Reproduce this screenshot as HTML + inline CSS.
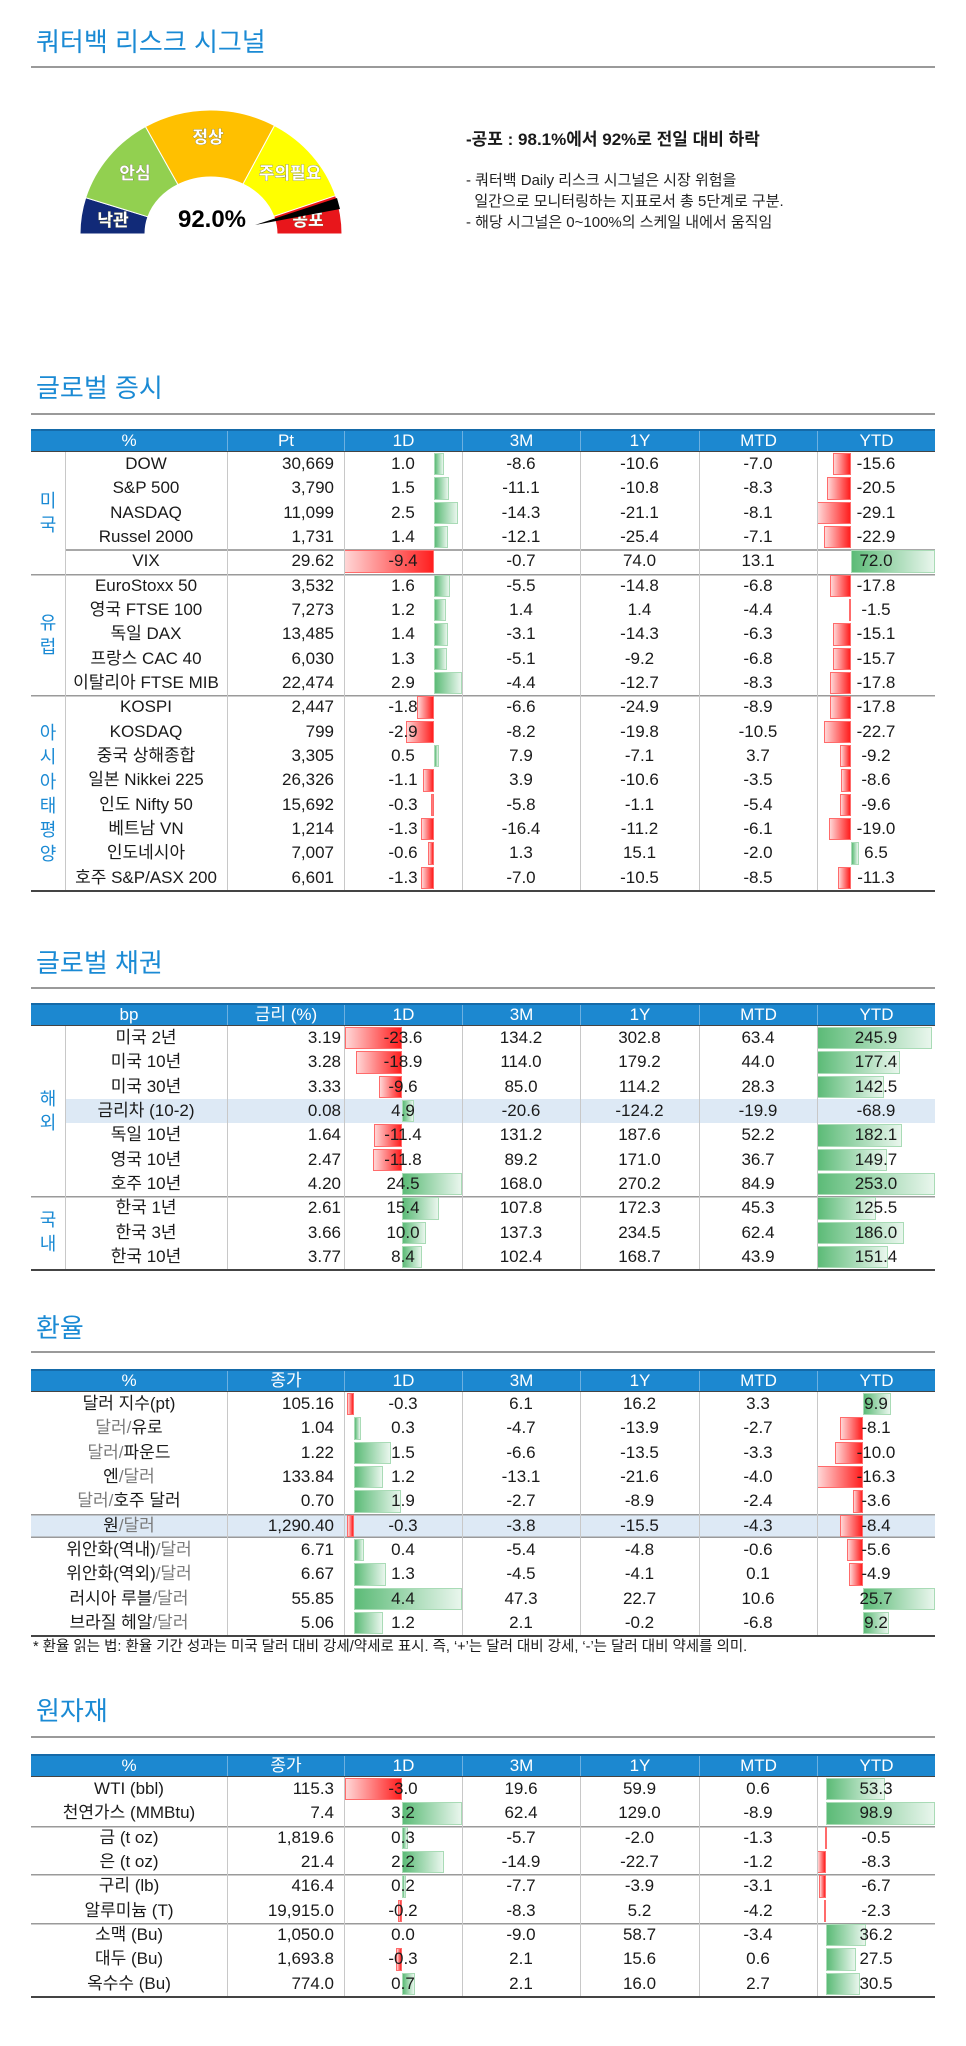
<!DOCTYPE html>
<html><head><meta charset="utf-8"><style>
*{margin:0;padding:0;box-sizing:border-box}
body{width:966px;height:2046px;background:#fff;position:relative;font-family:"Liberation Sans","Noto Sans CJK KR",sans-serif;color:#1a1a1a;overflow:hidden}
.t{position:absolute;left:36px;font-size:26px;color:#1a8ad4;line-height:30px;font-family:"Liberation Sans","Noto Sans CJK KR",sans-serif}
.u{position:absolute;left:31px;width:904px;height:2px;background:#9a9a9a}
.tb{position:absolute;left:31px;width:904px;border-bottom:2px solid #444}
.h{height:23px;background:#1c88d0;border-top:2px solid #156aa8;border-bottom:1px solid #444;display:grid;color:#fff;font-size:17px;line-height:20px}
.h span{text-align:center;border-left:1px solid #6db0e0}
.h span:first-child{border-left:none}
.r{height:24.33px;display:grid;font-size:17px;line-height:24px;position:relative}
.r span{text-align:center;position:relative;white-space:nowrap}
.s .h,.s .r{grid-template-columns:34px 162px 117px 118px 118px 119px 118px 118px}
.s .h{grid-template-columns:196px 117px 118px 118px 119px 118px 118px}
.f .h,.f .r{grid-template-columns:196px 117px 118px 118px 119px 118px 118px}
.r span.v{text-align:right;padding-right:10px}
.b .r span.v{padding-right:3px}
.r span b{font-weight:normal;position:relative;z-index:2}
i{position:absolute;top:1px;bottom:1px;z-index:1}
i.n{background:linear-gradient(to right,#ffd6d6,#ff1e1e);border:1px solid #ff6b6b}
i.p{background:linear-gradient(to right,#5cbb77,#e9f6ed);border:1px solid #a9dbb6}
.vl{position:absolute;width:1px;background:#c8c8c8;z-index:3}
.hl{box-shadow:inset 0 1.5px 0 #9a9a9a}
.hi{background:#dde9f5}
.g{position:absolute;left:0;width:34px;text-align:center;color:#1a8ad4;font-size:18px;line-height:24.3px}
.gy{color:#7a7a7a}
</style></head><body>

<div class="t" style="top:27px">쿼터백 리스크 시그널</div>
<div class="u" style="top:66px"></div>

<svg style="position:absolute;left:0;top:0" width="420" height="260" viewBox="0 0 420 260">
<path d="M80,234 A131,124 0 0 1 85.7,197.7 L147.9,216.8 A66,57 0 0 0 145,234 Z" fill="#112a78" stroke="#fff" stroke-width="1"/>
<path d="M85.7,197.7 A131,124 0 0 1 145.5,126.6 L178,184.6 A66,57 0 0 0 147.9,216.8 Z" fill="#92d050" stroke="#fff" stroke-width="1"/>
<path d="M145.5,126.6 A131,124 0 0 1 274.5,125.6 L243,184.1 A66,57 0 0 0 178,184.6 Z" fill="#ffc000" stroke="#fff" stroke-width="1"/>
<path d="M274.5,125.6 A131,124 0 0 1 335.6,195.7 L273.8,216.4 A66,57 0 0 0 243,184.1 Z" fill="#ffff00" stroke="#fff" stroke-width="1"/>
<path d="M335.6,195.7 A131,124 0 0 1 342,234 L277,234 A66,57 0 0 0 273.8,216.4 Z" fill="#e8161b" stroke="#fff" stroke-width="1"/>
<g font-family="Liberation Sans, Noto Sans CJK KR, sans-serif" font-weight="bold" font-size="17" fill="#fff" text-anchor="middle" stroke="#6b6b3a" stroke-width="0.6" paint-order="stroke">
<text x="208" y="143">정상</text><text x="135" y="179">안심</text><text x="290" y="179">주의필요</text><text x="113" y="226">낙관</text><text x="308" y="226">공포</text></g>
<polygon points="255,225 337,198 340,209" fill="#000"/>
<text x="212" y="227" font-family="Liberation Sans, sans-serif" font-weight="bold" font-size="24" text-anchor="middle" fill="#000">92.0%</text>
</svg>

<div style="position:absolute;left:466px;top:128px;font-size:17px;font-weight:bold;line-height:24px">-공포 : 98.1%에서 92%로 전일 대비 하락</div>
<div style="position:absolute;left:466px;top:170px;font-size:15px;line-height:21px;color:#222">- 쿼터백 Daily 리스크 시그널은 시장 위험을<br>&nbsp; 일간으로 모니터링하는 지표로서 총 5단계로 구분.<br>- 해당 시그널은 0~100%의 스케일 내에서 움직임</div>

<!-- 글로벌 증시 -->
<div class="t" style="top:373px">글로벌 증시</div>
<div class="u" style="top:413px"></div>
<div class="tb s" style="top:429px">
<div class="h"><span>%</span><span>Pt</span><span>1D</span><span>3M</span><span>1Y</span><span>MTD</span><span>YTD</span></div>
<div class="r"><span></span><span>DOW</span><span class="v">30,669</span><span><i class="p" style="left:90px;width:10px"></i><b>1.0</b></span><span>-8.6</span><span>-10.6</span><span>-7.0</span><span><i class="n" style="left:15.7px;width:18.3px"></i><b>-15.6</b></span></div>
<div class="r"><span></span><span>S&amp;P 500</span><span class="v">3,790</span><span><i class="p" style="left:90px;width:14.6px"></i><b>1.5</b></span><span>-11.1</span><span>-10.8</span><span>-8.3</span><span><i class="n" style="left:10px;width:24px"></i><b>-20.5</b></span></div>
<div class="r"><span></span><span>NASDAQ</span><span class="v">11,099</span><span><i class="p" style="left:90px;width:24.3px"></i><b>2.5</b></span><span>-14.3</span><span>-21.1</span><span>-8.1</span><span><i class="n" style="left:0;width:34px"></i><b>-29.1</b></span></div>
<div class="r"><span></span><span>Russel 2000</span><span class="v">1,731</span><span><i class="p" style="left:90px;width:13.6px"></i><b>1.4</b></span><span>-12.1</span><span>-25.4</span><span>-7.1</span><span><i class="n" style="left:7.2px;width:26.8px"></i><b>-22.9</b></span></div>
<div class="r" style="box-shadow:inset 0 2px 0 #a8a8a8"><span style="background:#fff"></span><span>VIX</span><span class="v">29.62</span><span><i class="n" style="left:0;width:90px"></i><b>-9.4</b></span><span>-0.7</span><span>74.0</span><span>13.1</span><span><i class="p" style="left:34px;width:84px"></i><b>72.0</b></span></div>
<div class="r hl"><span></span><span>EuroStoxx 50</span><span class="v">3,532</span><span><i class="p" style="left:90px;width:15.5px"></i><b>1.6</b></span><span>-5.5</span><span>-14.8</span><span>-6.8</span><span><i class="n" style="left:13.2px;width:20.8px"></i><b>-17.8</b></span></div>
<div class="r"><span></span><span>영국 FTSE 100</span><span class="v">7,273</span><span><i class="p" style="left:90px;width:11.6px"></i><b>1.2</b></span><span>1.4</span><span>1.4</span><span>-4.4</span><span><i class="n" style="left:32.2px;width:1.8px"></i><b>-1.5</b></span></div>
<div class="r"><span></span><span>독일 DAX</span><span class="v">13,485</span><span><i class="p" style="left:90px;width:13.6px"></i><b>1.4</b></span><span>-3.1</span><span>-14.3</span><span>-6.3</span><span><i class="n" style="left:16.3px;width:17.7px"></i><b>-15.1</b></span></div>
<div class="r"><span></span><span>프랑스 CAC 40</span><span class="v">6,030</span><span><i class="p" style="left:90px;width:12.6px"></i><b>1.3</b></span><span>-5.1</span><span>-9.2</span><span>-6.8</span><span><i class="n" style="left:15.6px;width:18.4px"></i><b>-15.7</b></span></div>
<div class="r"><span></span><span>이탈리아 FTSE MIB</span><span class="v">22,474</span><span><i class="p" style="left:90px;width:28px"></i><b>2.9</b></span><span>-4.4</span><span>-12.7</span><span>-8.3</span><span><i class="n" style="left:13.2px;width:20.8px"></i><b>-17.8</b></span></div>
<div class="r hl"><span></span><span>KOSPI</span><span class="v">2,447</span><span><i class="n" style="left:72.5px;width:17.5px"></i><b>-1.8</b></span><span>-6.6</span><span>-24.9</span><span>-8.9</span><span><i class="n" style="left:13.2px;width:20.8px"></i><b>-17.8</b></span></div>
<div class="r"><span></span><span>KOSDAQ</span><span class="v">799</span><span><i class="n" style="left:62px;width:28px"></i><b>-2.9</b></span><span>-8.2</span><span>-19.8</span><span>-10.5</span><span><i class="n" style="left:7.4px;width:26.6px"></i><b>-22.7</b></span></div>
<div class="r"><span></span><span>중국 상해종합</span><span class="v">3,305</span><span><i class="p" style="left:90px;width:4.9px"></i><b>0.5</b></span><span>7.9</span><span>-7.1</span><span>3.7</span><span><i class="n" style="left:23.2px;width:10.8px"></i><b>-9.2</b></span></div>
<div class="r"><span></span><span>일본 Nikkei 225</span><span class="v">26,326</span><span><i class="n" style="left:79.3px;width:10.7px"></i><b>-1.1</b></span><span>3.9</span><span>-10.6</span><span>-3.5</span><span><i class="n" style="left:24px;width:10px"></i><b>-8.6</b></span></div>
<div class="r"><span></span><span>인도 Nifty 50</span><span class="v">15,692</span><span><i class="n" style="left:87.1px;width:2.9px"></i><b>-0.3</b></span><span>-5.8</span><span>-1.1</span><span>-5.4</span><span><i class="n" style="left:22.8px;width:11.2px"></i><b>-9.6</b></span></div>
<div class="r"><span></span><span>베트남 VN</span><span class="v">1,214</span><span><i class="n" style="left:77.4px;width:12.6px"></i><b>-1.3</b></span><span>-16.4</span><span>-11.2</span><span>-6.1</span><span><i class="n" style="left:11.8px;width:22.2px"></i><b>-19.0</b></span></div>
<div class="r"><span></span><span>인도네시아</span><span class="v">7,007</span><span><i class="n" style="left:84.2px;width:5.8px"></i><b>-0.6</b></span><span>1.3</span><span>15.1</span><span>-2.0</span><span><i class="p" style="left:34px;width:7.6px"></i><b>6.5</b></span></div>
<div class="r"><span></span><span>호주 S&amp;P/ASX 200</span><span class="v">6,601</span><span><i class="n" style="left:77.4px;width:12.6px"></i><b>-1.3</b></span><span>-7.0</span><span>-10.5</span><span>-8.5</span><span><i class="n" style="left:20.8px;width:13.2px"></i><b>-11.3</b></span></div>
<div class="vl" style="left:34px;top:23px;height:438px"></div>
<div class="vl" style="left:196px;top:23px;height:438px"></div>
<div class="vl" style="left:313px;top:23px;height:438px"></div>
<div class="vl" style="left:431px;top:23px;height:438px"></div>
<div class="vl" style="left:549px;top:23px;height:438px"></div>
<div class="vl" style="left:668px;top:23px;height:438px"></div>
<div class="vl" style="left:786px;top:23px;height:438px"></div>
<div class="g" style="top:60px">미<br>국</div>
<div class="g" style="top:182px">유<br>럽</div>
<div class="g" style="top:292px">아<br>시<br>아<br>태<br>평<br>양</div>
</div>

<!-- 글로벌 채권 -->
<div class="t" style="top:948px">글로벌 채권</div>
<div class="u" style="top:987px"></div>
<div class="tb s b" style="top:1003px">
<div class="h"><span>bp</span><span>금리 (%)</span><span>1D</span><span>3M</span><span>1Y</span><span>MTD</span><span>YTD</span></div>
<div class="r"><span></span><span>미국 2년</span><span class="v">3.19</span><span><i class="n" style="left:0.7px;width:57.3px"></i><b>-23.6</b></span><span>134.2</span><span>302.8</span><span>63.4</span><span><i class="p" style="left:0;width:114.8px"></i><b>245.9</b></span></div>
<div class="r"><span></span><span>미국 10년</span><span class="v">3.28</span><span><i class="n" style="left:12.1px;width:45.9px"></i><b>-18.9</b></span><span>114.0</span><span>179.2</span><span>44.0</span><span><i class="p" style="left:0;width:82.8px"></i><b>177.4</b></span></div>
<div class="r"><span></span><span>미국 30년</span><span class="v">3.33</span><span><i class="n" style="left:34.7px;width:23.3px"></i><b>-9.6</b></span><span>85.0</span><span>114.2</span><span>28.3</span><span><i class="p" style="left:0;width:66.5px"></i><b>142.5</b></span></div>
<div class="r" style="box-shadow:inset 0 2px 0 #a8a8a8,inset 0 -1px 0 #9a9a9a"><span style="background:#fff"></span><span class="hi">금리차 (10-2)</span><span class="v hi">0.08</span><span class="hi"><i class="p" style="left:58px;width:11.9px"></i><b>4.9</b></span><span class="hi">-20.6</span><span class="hi">-124.2</span><span class="hi">-19.9</span><span class="hi">-68.9</span></div>
<div class="r"><span></span><span>독일 10년</span><span class="v">1.64</span><span><i class="n" style="left:30.3px;width:27.7px"></i><b>-11.4</b></span><span>131.2</span><span>187.6</span><span>52.2</span><span><i class="p" style="left:0;width:85px"></i><b>182.1</b></span></div>
<div class="r"><span></span><span>영국 10년</span><span class="v">2.47</span><span><i class="n" style="left:29.3px;width:28.7px"></i><b>-11.8</b></span><span>89.2</span><span>171.0</span><span>36.7</span><span><i class="p" style="left:0;width:69.9px"></i><b>149.7</b></span></div>
<div class="r"><span></span><span>호주 10년</span><span class="v">4.20</span><span><i class="p" style="left:58px;width:60px"></i><b>24.5</b></span><span>168.0</span><span>270.2</span><span>84.9</span><span><i class="p" style="left:0;width:118px"></i><b>253.0</b></span></div>
<div class="r hl"><span></span><span>한국 1년</span><span class="v">2.61</span><span><i class="p" style="left:58px;width:37.4px"></i><b>15.4</b></span><span>107.8</span><span>172.3</span><span>45.3</span><span><i class="p" style="left:0;width:58.6px"></i><b>125.5</b></span></div>
<div class="r"><span></span><span>한국 3년</span><span class="v">3.66</span><span><i class="p" style="left:58px;width:24.3px"></i><b>10.0</b></span><span>137.3</span><span>234.5</span><span>62.4</span><span><i class="p" style="left:0;width:86.9px"></i><b>186.0</b></span></div>
<div class="r"><span></span><span>한국 10년</span><span class="v">3.77</span><span><i class="p" style="left:58px;width:20.4px"></i><b>8.4</b></span><span>102.4</span><span>168.7</span><span>43.9</span><span><i class="p" style="left:0;width:70.7px"></i><b>151.4</b></span></div>
<div class="vl" style="left:34px;top:23px;height:243px"></div>
<div class="vl" style="left:196px;top:23px;height:243px"></div>
<div class="vl" style="left:313px;top:23px;height:243px"></div>
<div class="vl" style="left:431px;top:23px;height:243px"></div>
<div class="vl" style="left:549px;top:23px;height:243px"></div>
<div class="vl" style="left:668px;top:23px;height:243px"></div>
<div class="vl" style="left:786px;top:23px;height:243px"></div>
<div class="g" style="top:84px">해<br>외</div>
<div class="g" style="top:205px">국<br>내</div>
</div>

<!-- 환율 -->
<div class="t" style="top:1313px">환율</div>
<div class="u" style="top:1351px"></div>
<div class="tb f" style="top:1369px">
<div class="h"><span>%</span><span>종가</span><span>1D</span><span>3M</span><span>1Y</span><span>MTD</span><span>YTD</span></div>
<div class="r"><span>달러 지수(pt)</span><span class="v">105.16</span><span><i class="n" style="left:2.6px;width:7.4px"></i><b>-0.3</b></span><span>6.1</span><span>16.2</span><span>3.3</span><span><i class="p" style="left:46px;width:27.7px"></i><b>9.9</b></span></div>
<div class="r"><span><span class="gy">달러/</span>유로</span><span class="v">1.04</span><span><i class="p" style="left:10px;width:7.4px"></i><b>0.3</b></span><span>-4.7</span><span>-13.9</span><span>-2.7</span><span><i class="n" style="left:23.3px;width:22.7px"></i><b>-8.1</b></span></div>
<div class="r"><span><span class="gy">달러/</span>파운드</span><span class="v">1.22</span><span><i class="p" style="left:10px;width:36.8px"></i><b>1.5</b></span><span>-6.6</span><span>-13.5</span><span>-3.3</span><span><i class="n" style="left:18px;width:28px"></i><b>-10.0</b></span></div>
<div class="r"><span>엔<span class="gy">/달러</span></span><span class="v">133.84</span><span><i class="p" style="left:10px;width:29.4px"></i><b>1.2</b></span><span>-13.1</span><span>-21.6</span><span>-4.0</span><span><i class="n" style="left:0.4px;width:45.6px"></i><b>-16.3</b></span></div>
<div class="r"><span><span class="gy">달러/</span>호주 달러</span><span class="v">0.70</span><span><i class="p" style="left:10px;width:46.6px"></i><b>1.9</b></span><span>-2.7</span><span>-8.9</span><span>-2.4</span><span><i class="n" style="left:35.9px;width:10.1px"></i><b>-3.6</b></span></div>
<div class="r hi" style="box-shadow:inset 0 1.5px 0 #9a9a9a,inset 0 -1.5px 0 #9a9a9a"><span>원<span class="gy">/달러</span></span><span class="v">1,290.40</span><span><i class="n" style="left:2.6px;width:7.4px"></i><b>-0.3</b></span><span>-3.8</span><span>-15.5</span><span>-4.3</span><span><i class="n" style="left:22.5px;width:23.5px"></i><b>-8.4</b></span></div>
<div class="r"><span>위안화(역내)<span class="gy">/달러</span></span><span class="v">6.71</span><span><i class="p" style="left:10px;width:9.8px"></i><b>0.4</b></span><span>-5.4</span><span>-4.8</span><span>-0.6</span><span><i class="n" style="left:30.3px;width:15.7px"></i><b>-5.6</b></span></div>
<div class="r"><span>위안화(역외)<span class="gy">/달러</span></span><span class="v">6.67</span><span><i class="p" style="left:10px;width:31.9px"></i><b>1.3</b></span><span>-4.5</span><span>-4.1</span><span>0.1</span><span><i class="n" style="left:32.3px;width:13.7px"></i><b>-4.9</b></span></div>
<div class="r"><span>러시아 루블<span class="gy">/달러</span></span><span class="v">55.85</span><span><i class="p" style="left:10px;width:108px"></i><b>4.4</b></span><span>47.3</span><span>22.7</span><span>10.6</span><span><i class="p" style="left:46px;width:72px"></i><b>25.7</b></span></div>
<div class="r"><span>브라질 헤알<span class="gy">/달러</span></span><span class="v">5.06</span><span><i class="p" style="left:10px;width:29.4px"></i><b>1.2</b></span><span>2.1</span><span>-0.2</span><span>-6.8</span><span><i class="p" style="left:46px;width:25.8px"></i><b>9.2</b></span></div>
<div class="vl" style="left:196px;top:23px;height:243px"></div>
<div class="vl" style="left:313px;top:23px;height:243px"></div>
<div class="vl" style="left:431px;top:23px;height:243px"></div>
<div class="vl" style="left:549px;top:23px;height:243px"></div>
<div class="vl" style="left:668px;top:23px;height:243px"></div>
<div class="vl" style="left:786px;top:23px;height:243px"></div>
</div>
<div style="position:absolute;left:33px;top:1637px;font-size:14.5px;line-height:20px;white-space:nowrap">* 환율 읽는 법: 환율 기간 성과는 미국 달러 대비 강세/약세로 표시. 즉, ‘+’는 달러 대비 강세, ‘-’는 달러 대비 약세를 의미.</div>

<!-- 원자재 -->
<div class="t" style="top:1696px">원자재</div>
<div class="u" style="top:1736px"></div>
<div class="tb f" style="top:1754px">
<div class="h"><span>%</span><span>종가</span><span>1D</span><span>3M</span><span>1Y</span><span>MTD</span><span>YTD</span></div>
<div class="r"><span>WTI (bbl)</span><span class="v">115.3</span><span><i class="n" style="left:1px;width:57px"></i><b>-3.0</b></span><span>19.6</span><span>59.9</span><span>0.6</span><span><i class="p" style="left:9px;width:58.6px"></i><b>53.3</b></span></div>
<div class="r"><span>천연가스 (MMBtu)</span><span class="v">7.4</span><span><i class="p" style="left:58px;width:60px"></i><b>3.2</b></span><span>62.4</span><span>129.0</span><span>-8.9</span><span><i class="p" style="left:9px;width:109px"></i><b>98.9</b></span></div>
<div class="r hl"><span>금 (t oz)</span><span class="v">1,819.6</span><span><i class="p" style="left:58px;width:5.7px"></i><b>0.3</b></span><span>-5.7</span><span>-2.0</span><span>-1.3</span><span><i class="n" style="left:8px;width:1px"></i><b>-0.5</b></span></div>
<div class="r"><span>은 (t oz)</span><span class="v">21.4</span><span><i class="p" style="left:58px;width:41.8px"></i><b>2.2</b></span><span>-14.9</span><span>-22.7</span><span>-1.2</span><span><i class="n" style="left:0;width:9px"></i><b>-8.3</b></span></div>
<div class="r hl"><span>구리 (lb)</span><span class="v">416.4</span><span><i class="p" style="left:58px;width:3.8px"></i><b>0.2</b></span><span>-7.7</span><span>-3.9</span><span>-3.1</span><span><i class="n" style="left:1.6px;width:7.4px"></i><b>-6.7</b></span></div>
<div class="r"><span>알루미늄 (T)</span><span class="v">19,915.0</span><span><i class="n" style="left:54.2px;width:3.8px"></i><b>-0.2</b></span><span>-8.3</span><span>5.2</span><span>-4.2</span><span><i class="n" style="left:6.5px;width:2.5px"></i><b>-2.3</b></span></div>
<div class="r hl"><span>소맥 (Bu)</span><span class="v">1,050.0</span><span><b>0.0</b></span><span>-9.0</span><span>58.7</span><span>-3.4</span><span><i class="p" style="left:9px;width:39.8px"></i><b>36.2</b></span></div>
<div class="r"><span>대두 (Bu)</span><span class="v">1,693.8</span><span><i class="n" style="left:52.3px;width:5.7px"></i><b>-0.3</b></span><span>2.1</span><span>15.6</span><span>0.6</span><span><i class="p" style="left:9px;width:30.3px"></i><b>27.5</b></span></div>
<div class="r"><span>옥수수 (Bu)</span><span class="v">774.0</span><span><i class="p" style="left:58px;width:13.3px"></i><b>0.7</b></span><span>2.1</span><span>16.0</span><span>2.7</span><span><i class="p" style="left:9px;width:33.6px"></i><b>30.5</b></span></div>
<div class="vl" style="left:196px;top:23px;height:219px"></div>
<div class="vl" style="left:313px;top:23px;height:219px"></div>
<div class="vl" style="left:431px;top:23px;height:219px"></div>
<div class="vl" style="left:549px;top:23px;height:219px"></div>
<div class="vl" style="left:668px;top:23px;height:219px"></div>
<div class="vl" style="left:786px;top:23px;height:219px"></div>
</div>

</body></html>
